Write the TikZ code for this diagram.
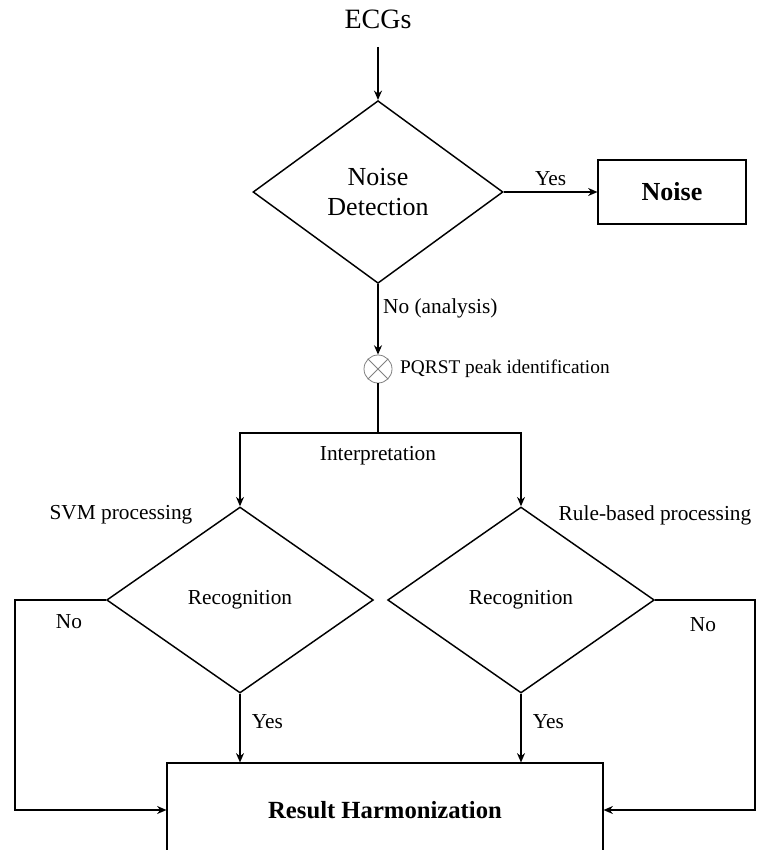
\documentclass[tikz,border=0pt]{standalone}
\usepackage{fontspec}
\setmainfont{Liberation Serif}
\usepackage{tikz}
\usetikzlibrary{positioning,arrows.meta,shapes.geometric}

\begin{document}
\begin{tikzpicture}[x=0.75pt,y=-0.75pt,>={Stealth[length=7pt,width=6pt]},line width=1.1pt,
		decision/.style={draw,diamond,inner sep=0pt,minimum width=#1,minimum height=139.5pt},
		outbox/.style={draw,rectangle,line width=0.8pt,inner sep=0pt},
		lbl/.style={font=\fontsize{16}{18}\selectfont}]
		
		\clip (0,0) rectangle (758,850);
		
		% Input
		\node[font=\fontsize{21}{24}\selectfont] (ecg) at (378,19){ECGs};
		
		% Noise check
		\node[decision=187.5pt,minimum height=137pt,font=\fontsize{19.5}{23}\selectfont,align=center] (nd) at (378,192){Noise\\Detection};
		\node[outbox,minimum width=111pt,minimum height=48pt,font=\fontsize{19.5}{23}\selectfont\bfseries] (noise) at (672,192){Noise};
		
		\draw[->,shorten <=10pt] (ecg) -- (nd);
		\draw[->] (nd) -- node[above=1pt,lbl]{Yes} (noise);
		
		% Peak identification
		\node[draw,circle,gray,line width=0.6pt,minimum size=21pt,inner sep=0pt] (pk) at (378,369){};
		\draw[gray,line width=0.6pt] (pk.north east)--(pk.south west) (pk.north west)--(pk.south east);
		\node[font=\fontsize{14.5}{17}\selectfont,right=2pt of pk] (pklbl){PQRST peak identification};
		
		\draw[->] (nd) -- node[right,lbl,pos=0.35]{No (analysis)} (pk);
		
		% Split to both branches
		\coordinate (fork) at (378,433);
		\draw (pk) -- (fork);
		\node[lbl,below=6pt of fork] (interp){Interpretation};
		
		% Recognition
		\node[decision=200pt,font=\fontsize{16}{18}\selectfont] (ld) at (240,600){Recognition};
		\node[decision=200pt,font=\fontsize{16}{18}\selectfont] (rd) at (521,600){Recognition};
		\node[lbl] (svm) at (121,515){SVM processing};
		\node[lbl] (rule) at (655,515){Rule-based processing};
		
		\draw[->] (fork) -| (ld);
		\draw[->] (fork) -| (rd);
		
		% Result
		\node[outbox,minimum width=327pt,minimum height=70.5pt,font=\fontsize{18.5}{22}\selectfont\bfseries] (res) at (385,810){Result Harmonization};
		
		\draw[->] (ld) -- node[right=5pt,lbl,pos=0.4]{Yes} (ld |- res.north);
		\draw[->] (rd) -- node[right=5pt,lbl,pos=0.4]{Yes} (rd |- res.north);
		
		% No branches
		\draw[->] (ld.west) -- (15,600) |- (res.west);
		\node[lbl] (lno) at (69,622){No};
		\draw[->] (rd.east) -- (755,600) |- (res.east);
		\node[lbl] (rno) at (703,625){No};
		
	\end{tikzpicture}
\end{document}
